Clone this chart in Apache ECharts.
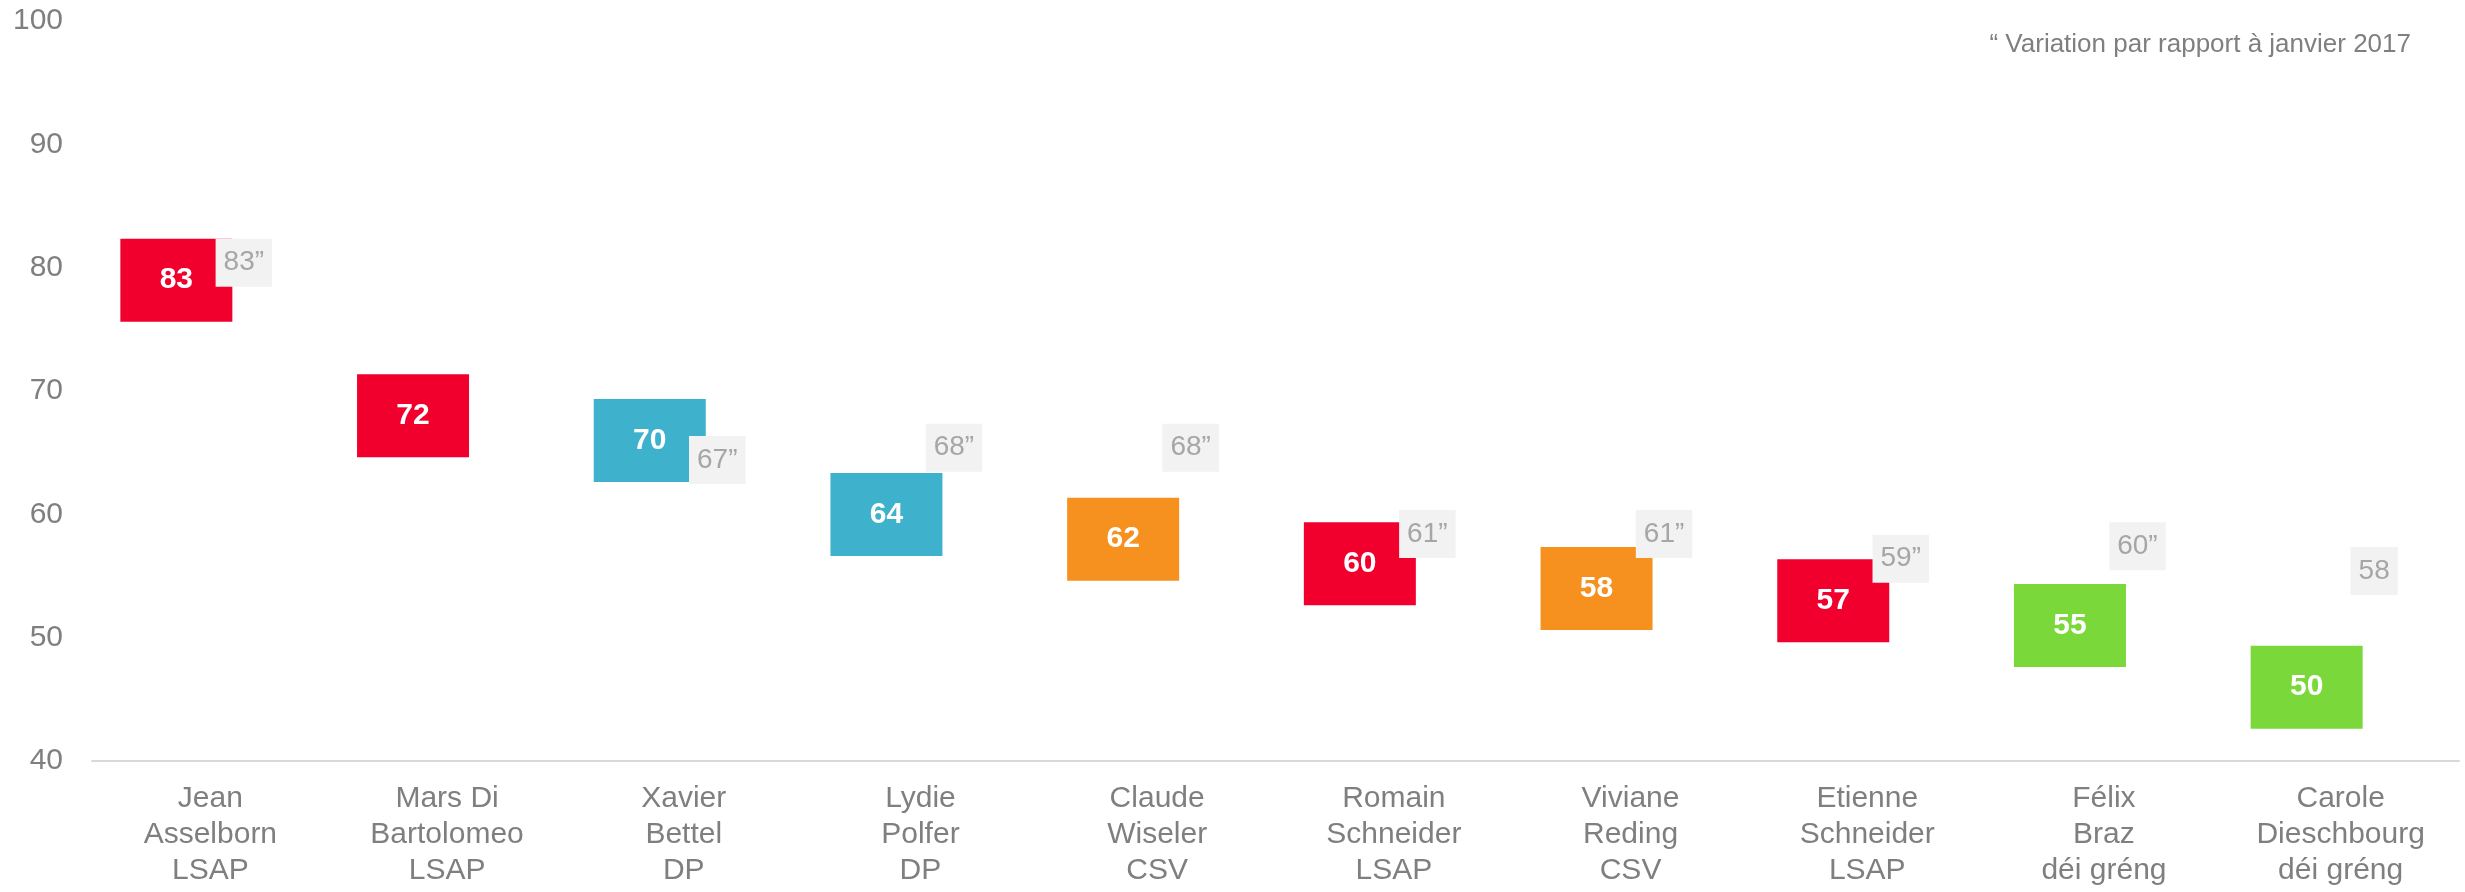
<!DOCTYPE html>
<html>
<head>
<meta charset="utf-8">
<script src="https://cdn.jsdelivr.net/npm/echarts@6/dist/echarts.min.js"></script>
<style>
  html, body { margin: 0; padding: 0; background: #fff; }
  #main { width: 2465px; height: 892px; }
</style>
</head>
<body>
<div id="main"></div>
<script>
// candidats, score actuel, score de janvier 2017
var names = [
  'Jean\nAsselborn\nLSAP',
  'Mars Di\nBartolomeo\nLSAP',
  'Xavier\nBettel\nDP',
  'Lydie\nPolfer\nDP',
  'Claude\nWiseler\nCSV',
  'Romain\nSchneider\nLSAP',
  'Viviane\nReding\nCSV',
  'Etienne\nSchneider\nLSAP',
  'Félix\nBraz\ndéi gréng',
  'Carole\nDieschbourg\ndéi gréng'
];
var parties = ['LSAP', 'LSAP', 'DP', 'DP', 'CSV', 'LSAP', 'CSV', 'LSAP', 'déi gréng', 'déi gréng'];
var scores = [83, 72, 70, 64, 62, 60, 58, 57, 55, 50];
var prevScores = [83, null, 67, 68, 68, 61, 61, 59, 60, 58];
var prevLabels = ['83”', '', '67”', '68”', '68”', '61”', '61”', '59”', '60”', '58'];
var yTicks = [40, 50, 60, 70, 80, 90, 100];
var footnote = '“ Variation par rapport à janvier 2017';

var partyColors = {
  'LSAP': '#F1002E',
  'DP': '#3EB1CD',
  'CSV': '#F6911F',
  'déi gréng': '#7AD83A'
};

var FONT = '"Liberation Sans", Arial, sans-serif';

var mainData = scores.map(function (v, i) { return [i, v]; });
var prevData = [];
prevScores.forEach(function (v, i) {
  if (v != null) prevData.push([i, v, i]);
});

var chart = echarts.init(document.getElementById('main'));

chart.setOption({
  animation: false,
  title: {
    text: footnote,
    right: 54,
    top: 32,
    padding: 0,
    textStyle: { color: '#7F7F7F', fontSize: 26, fontWeight: 'normal', fontFamily: FONT }
  },
  grid: { left: 92, right: 6, top: 21, bottom: 131, containLabel: false },
  xAxis: {
    type: 'category',
    data: names,
    axisLine: { lineStyle: { color: '#D9D9D9', width: 2 } },
    axisTick: { show: false },
    axisLabel: {
      color: '#7F7F7F', fontSize: 30, lineHeight: 36, fontFamily: FONT,
      margin: 20, interval: 0, align: 'center'
    }
  },
  yAxis: {
    type: 'value',
    min: yTicks[0],
    max: yTicks[yTicks.length - 1],
    interval: 10,
    axisLine: { show: false },
    axisTick: { show: false },
    splitLine: { show: false },
    axisLabel: { color: '#7F7F7F', fontSize: 30, fontFamily: FONT, margin: 29, padding: [3, 0, 0, 0] }
  },
  series: [
    {
      type: 'custom',
      data: mainData,
      z: 2,
      renderItem: function (params, api) {
        var i = api.value(0);
        var p = api.coord([i, api.value(1)]);
        return {
          type: 'rect',
          shape: { x: p[0] - 90, y: p[1] + 8, width: 112, height: 83 },
          style: { fill: partyColors[parties[i]] },
          textContent: {
            style: {
              text: String(scores[i]),
              fill: '#fff',
              fontSize: 30,
              fontWeight: 'bold',
              fontFamily: FONT
            }
          },
          textConfig: { position: 'inside' }
        };
      }
    },
    {
      type: 'custom',
      data: prevData,
      z: 3,
      renderItem: function (params, api) {
        var i = api.value(2);
        var p = api.coord([api.value(0), api.value(1)]);
        return {
          type: 'text',
          x: p[0] + 33.5,
          y: p[1] + 8,
          style: {
            text: prevLabels[i],
            fill: '#A6A6A6',
            fontSize: 28,
            lineHeight: 28,
            fontFamily: FONT,
            align: 'center',
            verticalAlign: 'top',
            backgroundColor: '#F2F2F2',
            padding: [10, 8, 10, 8]
          }
        };
      }
    }
  ]
});
</script>
</body>
</html>
